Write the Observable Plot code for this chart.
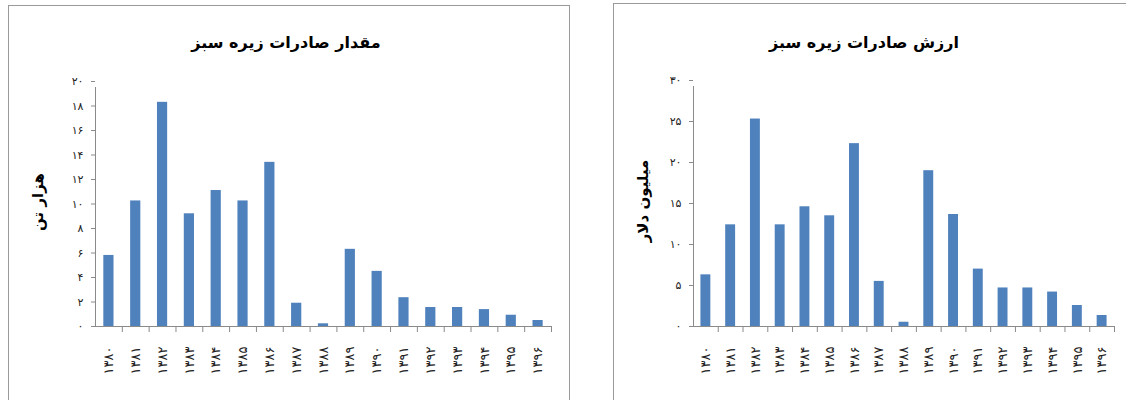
<!DOCTYPE html>
<html>
<head>
<meta charset="utf-8">
<script src="https://cdn.jsdelivr.net/npm/d3@7"></script>
<script src="https://cdn.jsdelivr.net/npm/@observablehq/plot@0.6"></script>
<style>
  html, body { margin: 0; padding: 0; background: #fff; }
  #root { position: relative; width: 1126px; height: 400px; overflow: hidden; background: #fff; font-family: "DejaVu Sans", sans-serif; }
  .panel { position: absolute; border: 1px solid #9a9a9a; box-sizing: border-box; }
  .title { position: absolute; text-align: center; direction: rtl; font-weight: bold; font-size: 16px; color: #000; white-space: nowrap; }
  .ytitle { position: absolute; direction: rtl; font-weight: bold; font-size: 15px; color: #000; white-space: nowrap; transform: translate(-50%, -50%) rotate(-90deg); }
  .plot { position: absolute; top: 0; }
</style>
</head>
<body>
<div id="root">
  <div class="panel" style="left:8px;top:5px;width:562px;height:430px;"></div>
  <div class="panel" style="left:613px;top:3px;width:560px;height:430px;"></div>
  <div class="title" style="left:86px;width:400px;top:33px;">مقدار صادرات زیره سبز</div>
  <div class="title" style="left:664px;width:400px;top:33px;">ارزش صادرات زیره سبز</div>
  <div class="ytitle" style="left:38px;top:202px;">هزار تن</div>
  <div class="ytitle" style="left:643px;top:201px;">میلیون دلار</div>
  <div id="left" class="plot" style="left:0px;"></div>
  <div id="right" class="plot" style="left:563px;"></div>
</div>
<script>
const years = [1380, 1381, 1382, 1383, 1384, 1385, 1386, 1387, 1388, 1389, 1390, 1391, 1392, 1393, 1394, 1395, 1396];
const quantity = [5.8, 10.25, 18.3, 9.2, 11.1, 10.25, 13.4, 1.9, 0.22, 6.3, 4.5, 2.35, 1.55, 1.55, 1.38, 0.92, 0.49];
const exportValue = [6.3, 12.4, 25.3, 12.4, 14.6, 13.5, 22.3, 5.5, 0.52, 19.0, 13.66, 7.0, 4.7, 4.7, 4.2, 2.56, 1.34];
const quantityTicks = [0, 2, 4, 6, 8, 10, 12, 14, 16, 18, 20];
const valueTicks = [0, 5, 10, 15, 20, 25, 30];

const faDigits = "۰۱۲۳۴۵۶۷۸۹";
const fa = v => String(v).replace(/\d/g, d => faDigits[d]);

function makeChart({values, ticks, width, marginLeft, marginRight, marginTop, marginBottom, pad}) {
  const data = years.map((y, i) => ({year: y, v: values[i]}));
  const yMax = ticks[ticks.length - 1];
  const step = (width - marginLeft - marginRight) / years.length;
  const axisColor = "#8a8a8a";
  return Plot.plot({
    width, height: 400,
    marginLeft, marginRight, marginTop, marginBottom,
    style: {background: "transparent", fontFamily: "DejaVu Sans, sans-serif"},
    x: {domain: years, paddingInner: pad, paddingOuter: pad / 2, align: 0.5, round: false, axis: null},
    y: {domain: [0, yMax], axis: null},
    marks: [
      Plot.barY(data, {x: "year", y: "v", fill: "#4F81BD"}),
      Plot.ruleY([0], {stroke: axisColor}),
      Plot.ruleX([years[0]], {x: d => d, dx: -step / 2, y1: 0, y2: yMax, insetBottom: -6, stroke: axisColor}),
      Plot.ruleX(years.slice(1), {x: d => d, dx: -step / 2, y1: 0, y2: 0, insetBottom: -6, stroke: axisColor}),
      Plot.ruleX([years[years.length - 1]], {x: d => d, dx: step / 2, y1: 0, y2: 0, insetBottom: -6, stroke: axisColor}),
      Plot.axisY({ticks, tickFormat: fa, tickSize: 4, tickPadding: 8, stroke: axisColor, fill: "#222", fontSize: 11, label: null}),
      Plot.axisX({tickFormat: fa, tickRotate: -90, tickSize: 0, tickPadding: 20, fill: "#222", fontSize: 13, label: null})
    ]
  });
}

document.getElementById("left").appendChild(makeChart({
  values: quantity, ticks: quantityTicks, width: 563,
  marginLeft: 95, marginRight: 12, marginTop: 81, marginBottom: 74, pad: 0.62
}));
document.getElementById("right").appendChild(makeChart({
  values: exportValue, ticks: valueTicks, width: 563,
  marginLeft: 130, marginRight: 12, marginTop: 80, marginBottom: 74, pad: 0.6
}));
</script>
</body>
</html>
